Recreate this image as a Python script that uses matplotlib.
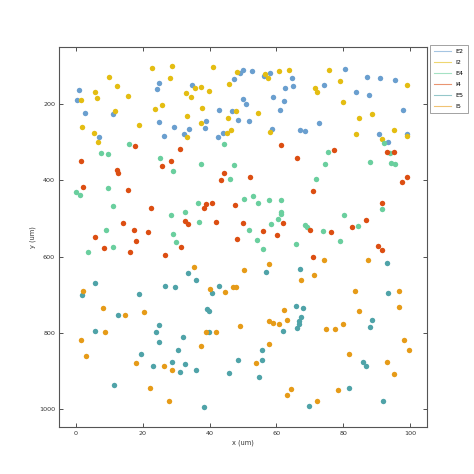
import matplotlib
matplotlib.use('Agg')
import matplotlib.pyplot as plt
from matplotlib.lines import Line2D

# cell positions (x, y in um)
e2_x = [1.0, 0.3, 2.7, 11.0, 6.8, 24.8, 24.2, 24.9, 26.4, 29.3, 34.8, 32.3, 34.0, 38.8, 38.7, 42.8, 43.9, 42.5, 46.7, 48.5,
        47.3, 49.0, 50.0, 50.0, 52.6, 56.2, 58.2, 64.7, 62.6, 65.0, 58.9, 50.8, 62.4, 61.2, 51.9, 58.7, 67.0, 68.7, 72.9, 74.4,
        80.5, 83.9, 87.8, 87.2, 90.9, 95.4, 97.9, 90.7, 93.5, 99.0]
e2_y = [164, 189, 224, 227, 287, 145, 159, 247, 283, 259, 149, 277, 265, 245, 263, 215, 275, 287, 219, 242,
        134, 118, 109, 186, 112, 127, 117, 132, 157, 153, 181, 199, 191, 214, 243, 264, 268, 271, 249, 150,
        107, 168, 176, 128, 131, 136, 214, 279, 300, 279]

i2_x = [1.5, 5.6, 6.4, 10.0, 12.2, 15.7, 11.7, 1.9, 5.5, 6.7, 18.8, 22.9, 28.7, 28.2, 23.6, 25.7, 33.1, 34.5, 33.4, 33.2,
        35.7, 37.4, 39.7, 37.8, 37.5, 41.1, 45.8, 48.1, 45.6, 46.3, 45.1, 47.9, 56.5, 57.6, 60.8, 63.7, 75.7, 79.0, 71.7, 72.3,
        80.1, 54.4, 84.7, 88.8, 99.1, 58.1, 83.8, 91.7, 95.1, 99.1]
i2_y = [189, 169, 185, 129, 152, 179, 218, 260, 276, 300, 254, 105, 100, 132, 213, 202, 170, 182, 231, 287,
        157, 156, 165, 210, 249, 103, 148, 115, 236, 268, 275, 217, 121, 131, 113, 109, 110, 139, 157, 169,
        194, 224, 235, 226, 150, 273, 278, 291, 267, 283]

e4_x = [92.2, 75.5, 74.7, 88.1, 94.4, 95.5, 94.1, 15.8, 7.5, 9.6, 25.2, 29.0, 37.4, 44.3, 47.3, 0.1, 1.2, 9.6, 11.2, 9.0,
        11.2, 3.5, 28.4, 29.1, 29.9, 32.6, 36.6, 36.9, 46.1, 50.3, 71.8, 53.0, 54.5, 57.9, 61.5, 61.4, 61.5, 60.5, 58.3, 51.9,
        54.3, 56.0, 68.7, 69.3, 73.9, 66.0, 79.1, 80.3, 84.5, 91.5]
e4_y = [302, 325, 357, 352, 354, 357, 329, 304, 328, 330, 342, 376, 356, 305, 359, 430, 439, 421, 468, 531,
        574, 587, 491, 541, 562, 483, 459, 508, 396, 448, 396, 441, 459, 452, 452, 484, 489, 501, 514, 529,
        557, 579, 518, 522, 532, 567, 559, 490, 519, 474]

i4_x = [61.4, 77.4, 66.3, 93.0, 95.3, 17.6, 1.4, 12.4, 12.7, 25.9, 28.5, 31.2, 44.3, 2.1, 15.7, 22.4, 14.2, 17.5, 21.6, 5.6,
        8.5, 18.1, 16.2, 26.7, 31.5, 32.6, 33.6, 38.2, 38.9, 40.7, 42.0, 43.4, 47.6, 48.2, 50.0, 52.0, 70.9, 97.5, 99.1, 91.5,
        62.1, 56.1, 60.1, 70.0, 76.4, 82.7, 87.0, 90.5, 91.6, 71.0]
i4_y = [307, 321, 342, 326, 326, 309, 350, 372, 381, 362, 350, 318, 380, 418, 424, 472, 512, 531, 536, 549,
        577, 560, 589, 595, 576, 507, 514, 473, 461, 458, 510, 399, 465, 553, 512, 392, 427, 405, 392, 460,
        511, 532, 544, 531, 536, 523, 504, 573, 583, 600]

e5_x = [33.6, 35.8, 5.8, 1.9, 18.9, 26.7, 29.6, 42.7, 40.6, 57.0, 67.2, 93.0, 93.4, 12.5, 5.6, 25.0, 24.0, 25.0, 32.2, 39.2,
        39.8, 39.7, 19.6, 23.2, 28.8, 30.5, 32.7, 31.1, 35.8, 11.3, 38.4, 45.7, 48.5, 65.8, 68.1, 67.3, 66.9, 66.7, 66.1, 61.9,
        88.8, 88.2, 55.6, 55.8, 54.9, 86.1, 86.9, 81.7, 69.9, 92.0]
e5_y = [642, 662, 669, 700, 698, 678, 680, 677, 696, 640, 632, 616, 696, 753, 794, 779, 798, 823, 811, 737,
        742, 799, 855, 887, 876, 845, 881, 904, 898, 936, 995, 906, 870, 730, 735, 759, 768, 776, 787, 794,
        766, 785, 845, 871, 915, 876, 886, 945, 993, 980]

i5_x = [35.4, 2.0, 40.0, 44.7, 46.9, 47.8, 50.2, 57.8, 74.3, 67.5, 71.4, 87.6, 83.6, 96.6, 8.1, 14.8, 20.3, 8.8, 1.6, 3.1,
        39.0, 41.9, 37.3, 49.1, 18.0, 26.4, 28.8, 22.3, 27.9, 62.3, 57.9, 59.1, 60.7, 63.3, 74.8, 77.5, 79.9, 84.8, 96.8, 98.1,
        99.8, 57.7, 53.8, 81.7, 93.1, 95.1, 64.4, 63.1, 78.5, 72.2]
i5_y = [628, 691, 685, 693, 680, 679, 635, 620, 610, 661, 648, 610, 690, 689, 734, 752, 744, 797, 818, 860,
        799, 798, 835, 781, 879, 886, 897, 946, 980, 739, 770, 773, 777, 767, 790, 790, 777, 743, 732, 818,
        845, 830, 878, 855, 876, 907, 948, 962, 951, 978]

pops = ['E2', 'I2', 'E4', 'I4', 'E5', 'I5']
xs = [e2_x, i2_x, e4_x, i4_x, e5_x, i5_x]
ys = [e2_y, i2_y, e4_y, i4_y, e5_y, i5_y]
colors = ['#6a9fcf', '#e4bd12', '#6acf9e', '#dc4e12', '#4fa3a8', '#e69b18']

fig = plt.figure(figsize=(4.74, 4.74), dpi=100)
ax = fig.add_axes([0.125, 0.1, 0.775, 0.8])

for x, y, c in zip(xs, ys, colors):
    ax.plot(x, y, 'o', color=c, ms=3.9, mew=0)

ax.set_xlim(-5, 105)
ax.set_ylim(1046, 51)
ax.set_xticks([0, 20, 40, 60, 80, 100])
ax.set_yticks([200, 400, 600, 800, 1000])
ax.tick_params(direction='in', top=True, right=True, length=3, width=0.6,
               labelsize=4.6, colors='#333333', pad=3)
for s in ax.spines.values():
    s.set_color('#555555')
    s.set_linewidth(0.8)
ax.set_xlabel('x (um)', fontsize=4.8, color='#333333', labelpad=3)
ax.set_ylabel('y (um)', fontsize=4.8, color='#333333', labelpad=2)

handles = [Line2D([], [], color=c, lw=0.8, alpha=0.6) for c in colors]
leg = ax.legend(handles, pops, loc='upper left', bbox_to_anchor=(1.01, 1.006),
                borderaxespad=0, fontsize=4.6, handlelength=2.6, fancybox=False,
                labelspacing=0.85, borderpad=0.6)
leg.get_frame().set_edgecolor('#777777')
leg.get_frame().set_linewidth(0.6)

fig.savefig('out.png', dpi=100)
